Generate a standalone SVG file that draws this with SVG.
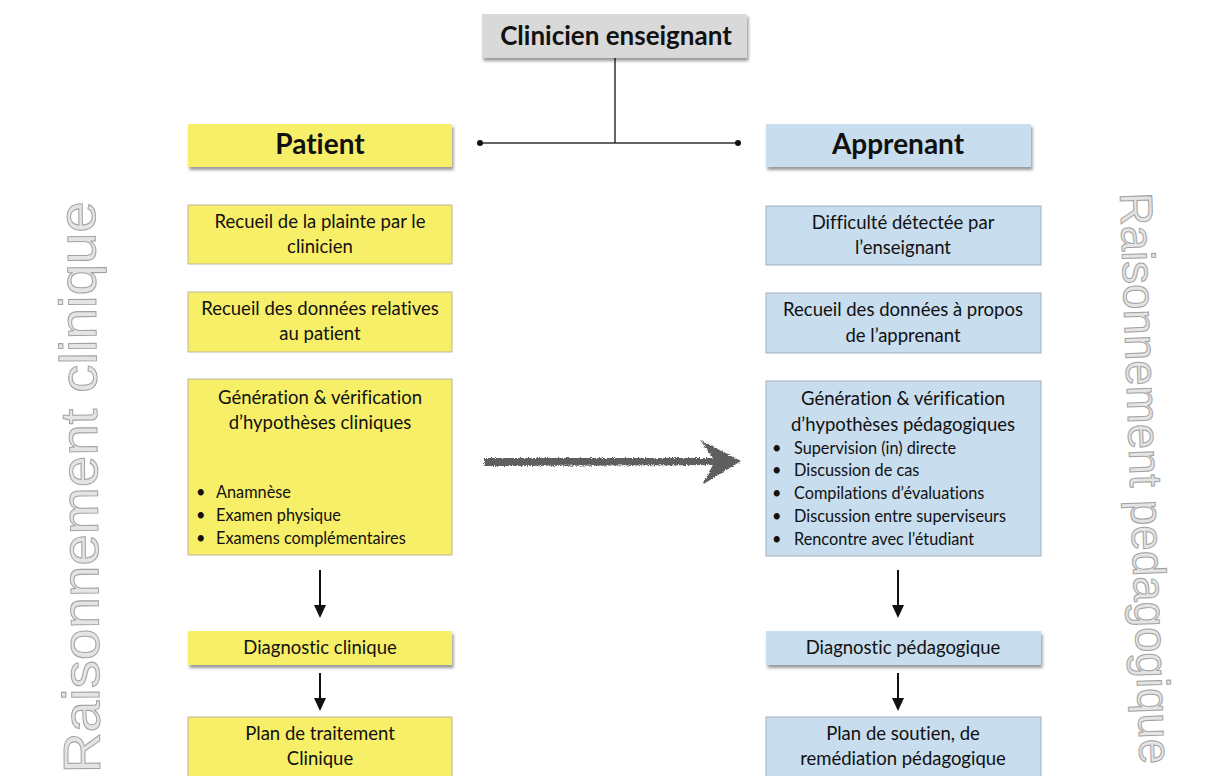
<svg xmlns="http://www.w3.org/2000/svg" width="1213" height="776" viewBox="0 0 1213 776">
<style>
.y{fill:#f8ef68;}
.b{fill:#c8ddee;}
.g{fill:#d9d9d9;}
.bd{stroke:#b9b9a0;stroke-width:1;}
.bdb{stroke:#9fb0bf;stroke-width:1;}
.t{font-family:Lato,"Open Sans",sans-serif;font-size:18.5px;fill:#111;text-anchor:middle;font-variant-ligatures:none;}
.h{font-family:Lato,"Open Sans",sans-serif;font-weight:bold;fill:#111;text-anchor:middle;font-variant-ligatures:none;}
.s{font-family:Lato,"Open Sans",sans-serif;font-size:16.3px;fill:#111;font-variant-ligatures:none;}
.side{font-family:"Liberation Sans",Arial,sans-serif;fill:#e4e4e4;stroke:#a3a3a3;stroke-width:1;}
.ln{stroke:#333;stroke-width:1.5;fill:none;}
.ar{stroke:#111;stroke-width:2;fill:none;}
.ah{fill:#111;}
</style>
<defs>
<filter id="sh" x="-10%" y="-20%" width="120%" height="150%">
<feDropShadow dx="1.5" dy="3" stdDeviation="1.8" flood-color="#000" flood-opacity="0.4"/>
</filter>
<filter id="chalk" x="-5%" y="-30%" width="110%" height="160%">
<feTurbulence type="fractalNoise" baseFrequency="0.9" numOctaves="2" seed="3" result="n"/>
<feDisplacementMap in="SourceGraphic" in2="n" scale="4" xChannelSelector="R" yChannelSelector="G"/>
</filter>
</defs>
<rect width="1213" height="776" fill="#fff"/>

<text class="side" font-size="52" transform="translate(100,773) rotate(-90.5)" textLength="572" lengthAdjust="spacingAndGlyphs">Raisonnement clinique</text>
<text class="side" font-size="46" transform="translate(1120,193) rotate(88)" textLength="572" lengthAdjust="spacingAndGlyphs">Raisonnement pedagogique</text>

<g id="connectors">
<path class="ln" d="M615,58 V143 M480,143 H738"/>
<circle cx="480" cy="143" r="3" fill="#111"/>
<circle cx="738" cy="143" r="3" fill="#111"/>
<path class="ar" d="M320,570 V606"/><path class="ah" d="M314,605 L326,605 L320,618 z"/>
<path class="ar" d="M320,673 V699"/><path class="ah" d="M314,698 L326,698 L320,711 z"/>
<path class="ar" d="M898,570 V606"/><path class="ah" d="M892,605 L904,605 L898,618 z"/>
<path class="ar" d="M898,673 V699"/><path class="ah" d="M892,698 L904,698 L898,711 z"/>
<g filter="url(#chalk)" fill="#5f5f5f">
<path d="M484,458 L722,458 L722,465 L484,466 z"/>
<path d="M700,440 L741,461 L702,485 L715,461 z"/>
</g>
</g>

<g id="clinicien">
<rect x="482" y="14" width="265" height="44" class="g" filter="url(#sh)"/>
<text class="h" x="616" y="45" font-size="26">Clinicien enseignant</text>
</g>
<g id="patient">
<rect x="188" y="124" width="264" height="43" class="y" filter="url(#sh)"/>
<text class="h" x="320" y="154" font-size="28">Patient</text>
</g>
<g id="apprenant">
<rect x="766" y="124" width="265" height="43" class="b" filter="url(#sh)"/>
<text class="h" x="898" y="154" font-size="28">Apprenant</text>
</g>

<g id="p1">
<rect x="188" y="205" width="264" height="59" class="y bd"/>
<text class="t" x="320" y="228">Recueil de la plainte par le</text>
<text class="t" x="320" y="253">clinicien</text>
</g>
<g id="p2">
<rect x="188" y="292" width="264" height="60" class="y bd"/>
<text class="t" x="320" y="315">Recueil des données relatives</text>
<text class="t" x="320" y="340">au patient</text>
</g>
<g id="p3">
<rect x="188" y="379" width="264" height="176" class="y bd"/>
<text class="t" x="320" y="404">Génération &amp; vérification</text>
<text class="t" x="320" y="429">d’hypothèses cliniques</text>
<g class="s">
<text x="196" y="498">•</text><text x="216" y="498">Anamnèse</text>
<text x="196" y="521">•</text><text x="216" y="521">Examen physique</text>
<text x="196" y="544">•</text><text x="216" y="544">Examens complémentaires</text>
</g>
</g>
<g id="p4">
<rect x="188" y="631" width="264" height="34" class="y" filter="url(#sh)"/>
<text class="t" x="320" y="654">Diagnostic clinique</text>
</g>
<g id="p5">
<rect x="188" y="717" width="264" height="70" class="y bd"/>
<text class="t" x="320" y="740">Plan de traitement</text>
<text class="t" x="320" y="765">Clinique</text>
</g>

<g id="a1">
<rect x="766" y="206" width="275" height="59" class="b bdb"/>
<text class="t" x="903" y="229">Difficulté détectée par</text>
<text class="t" x="903" y="254">l’enseignant</text>
</g>
<g id="a2">
<rect x="766" y="293" width="275" height="60" class="b bdb"/>
<text class="t" x="903" y="316">Recueil des données à propos</text>
<text class="t" x="903" y="342">de l’apprenant</text>
</g>
<g id="a3">
<rect x="766" y="381" width="275" height="175" class="b bdb"/>
<text class="t" x="903" y="405">Génération &amp; vérification</text>
<text class="t" x="903" y="431">d’hypothèses pédagogiques</text>
<g class="s">
<text x="772" y="454">•</text><text x="794" y="454">Supervision (in) directe</text>
<text x="772" y="476">•</text><text x="794" y="476">Discussion de cas</text>
<text x="772" y="499">•</text><text x="794" y="499">Compilations d’évaluations</text>
<text x="772" y="522">•</text><text x="794" y="522">Discussion entre superviseurs</text>
<text x="772" y="545">•</text><text x="794" y="545">Rencontre avec l’étudiant</text>
</g>
</g>
<g id="a4">
<rect x="766" y="631" width="275" height="34" class="b" filter="url(#sh)"/>
<text class="t" x="903" y="654">Diagnostic pédagogique</text>
</g>
<g id="a5">
<rect x="766" y="717" width="275" height="70" class="b bdb"/>
<text class="t" x="903" y="740">Plan de soutien, de</text>
<text class="t" x="903" y="765">remédiation pédagogique</text>
</g>
</svg>
